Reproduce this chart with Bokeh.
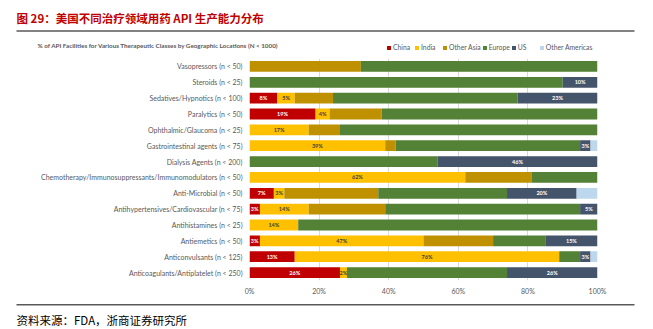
from bokeh.plotting import figure
from bokeh.layouts import column
from bokeh.models import (ColumnDataSource, FactorRange, Range1d, FixedTicker, PrintfTickFormatter,
                          Legend, LegendItem)
from bokeh.core.properties import value
from bokeh.embed import file_html
from bokeh.resources import INLINE
import numpy as np

categories = [
    "Vasopressors (n < 50)",
    "Steroids (n < 25)",
    "Sedatives/Hypnotics (n < 100)",
    "Paralytics (n < 50)",
    "Ophthalmic/Glaucoma (n < 25)",
    "Gastrointestinal agents (n < 75)",
    "Dialysis Agents (n < 200)",
    "Chemotherapy/Immunosuppressants/Immunomodulators (n < 50)",
    "Anti-Microbial (n < 50)",
    "Antihypertensives/Cardiovascular (n < 75)",
    "Antihistamines (n < 25)",
    "Antiemetics (n < 50)",
    "Anticonvulsants (n < 125)",
    "Anticoagulants/Antiplatelet (n < 250)",
]
china          = [0, 0, 8, 19, 0, 0, 0, 0, 7, 3, 0, 3, 13, 26]
india          = [0, 0, 5, 4, 17, 39, 0, 62, 3, 14, 14, 47, 76, 2]
other_asia     = [32, 0, 11, 15, 9, 3, 0, 19, 27, 22, 0, 20, 0, 0]
europe         = [68, 90, 53, 62, 74, 53, 54, 19, 37, 56, 86, 15, 6, 46]
us             = [0, 10, 23, 0, 0, 3, 46, 0, 20, 5, 0, 15, 3, 26]
other_americas = [0, 0, 0, 0, 0, 2, 0, 0, 6, 0, 0, 0, 2, 0]

series_names = ["China", "India", "Other Asia", "Europe", "US", "Other Americas"]
series_keys = ["china", "india", "other_asia", "europe", "us", "other_americas"]
colors = ["#C00000", "#FFC000", "#BF9000", "#538135", "#44546A", "#BDD7EE"]
tick_values = [0, 20, 40, 60, 80, 100]

title_text = "图 29：美国不同治疗领域用药 API 生产能力分布"
chart_title = "% of API Facilities for Various Therapeutic Classes by Geographic Locations (N < 1000)"
source_text = "资料来源：FDA，浙商证券研究所"

W = 653
TOTAL_H = 329
TOP_H = 58
MAIN_H = 244
BOT_H = TOTAL_H - TOP_H - MAIN_H
FL, FR = 249, 597
FRAME_H = 222


def blank(h):
    f = figure(width=W, height=h, output_backend="svg", toolbar_location=None,
               x_range=Range1d(0, W), y_range=Range1d(0, h),
               min_border=0, min_border_left=0, min_border_right=0,
               min_border_top=0, min_border_bottom=0, frame_align=False)
    f.axis.visible = False
    f.grid.grid_line_color = None
    f.outline_line_color = None
    f.background_fill_color = "white"
    return f


# ---- top: title, rule, chart title, legend  (y measured upward from the panel's bottom)
top = blank(TOP_H)
def ty(cy):
    return TOP_H - cy

top.text(x=[16], y=[ty(17.5)], text=[title_text], text_color="#C00000",
         text_font=value("Noto Sans CJK SC"), text_font_size="11.5px", text_font_style="bold",
         text_baseline="middle")
top.quad(left=[16], right=[634], top=[ty(29.7)], bottom=[ty(31.3)], color="#595959", line_color=None)
top.text(x=[37], y=[ty(45)], text=[chart_title], text_color="#595959",
         text_font=value("Lato"), text_font_size="6.3px", text_font_style="bold",
         text_baseline="middle")
dummies = [top.hbar(y=[-1000], right=[1], left=[0], height=1, color=c, line_color=None) for c in colors]
legend = Legend(items=[LegendItem(label=n, renderers=[r]) for n, r in zip(series_names, dummies)],
                orientation="horizontal", location=(386, ty(51)),
                glyph_width=5, glyph_height=5, label_height=8, label_standoff=2, spacing=1,
                padding=2, margin=0, border_line_color=None, background_fill_alpha=0,
                label_text_font="Lato", label_text_font_size="6.8px", label_text_color="#595959")
top.add_layout(legend, "center")

# ---- main chart
source = ColumnDataSource(dict(cat=categories, china=china, india=india, other_asia=other_asia,
                               europe=europe, us=us, other_americas=other_americas))

p = figure(width=W, height=MAIN_H, output_backend="svg", toolbar_location=None,
           y_range=FactorRange(factors=list(reversed(categories))),
           x_range=Range1d(0, 100), frame_align=False,
           min_border_left=FL, min_border_right=W - FR, min_border_top=0,
           min_border_bottom=MAIN_H - FRAME_H)
p.outline_line_color = None
p.background_fill_color = "white"

p.hbar_stack(series_keys, y="cat", height=0.68, color=colors, line_color=None, source=source)

vals = np.array([china, india, other_asia, europe, us, other_americas], dtype=float)
lefts = np.vstack([np.zeros(len(categories)), np.cumsum(vals, axis=0)[:-1]])
lx, ly, lt, lc = [], [], [], []
for si, col in [(0, "white"), (1, "#404040"), (4, "white")]:
    for i, c in enumerate(categories):
        v = vals[si, i]
        if v > 0:
            lx.append(lefts[si, i] + v / 2)
            ly.append(c)
            lt.append(f"{int(v)}%")
            lc.append(col)
p.text(x=lx, y=ly, text=lt, text_color=lc, text_align="center", text_baseline="middle",
       text_font=value("Lato"), text_font_size="5.5px", text_font_style="bold")

p.xaxis.ticker = FixedTicker(ticks=tick_values)
p.xaxis.formatter = PrintfTickFormatter(format="%d%%")
for ax in (p.xaxis[0], p.yaxis[0]):
    ax.axis_line_color = None
    ax.major_tick_line_color = None
    ax.minor_tick_line_color = None
    ax.major_tick_out = 0
    ax.major_tick_in = 0
    ax.minor_tick_out = 0
    ax.major_label_text_font = "Lato"
    ax.major_label_text_font_size = "7px"
    ax.major_label_text_color = "#595959"
p.xaxis.major_label_standoff = 6
p.yaxis.major_label_standoff = 7
p.xgrid.grid_line_color = "#D9D9D9"
p.xgrid.ticker = FixedTicker(ticks=tick_values)
p.ygrid.grid_line_color = None

# ---- bottom: rule and source (y measured upward from the panel's bottom)
bot = blank(BOT_H)
def by(cy):
    return TOTAL_H - cy

bot.quad(left=[16], right=[634], top=[by(303.5)], bottom=[by(305.1)], color="#595959", line_color=None)
bot.text(x=[16], y=[by(319)], text=[source_text], text_color="#000000",
         text_font=value("Noto Sans CJK SC"), text_font_size="11.5px",
         text_baseline="middle")

layout = column(top, p, bot, spacing=0)
open("out.html", "w").write(file_html(layout, INLINE))
